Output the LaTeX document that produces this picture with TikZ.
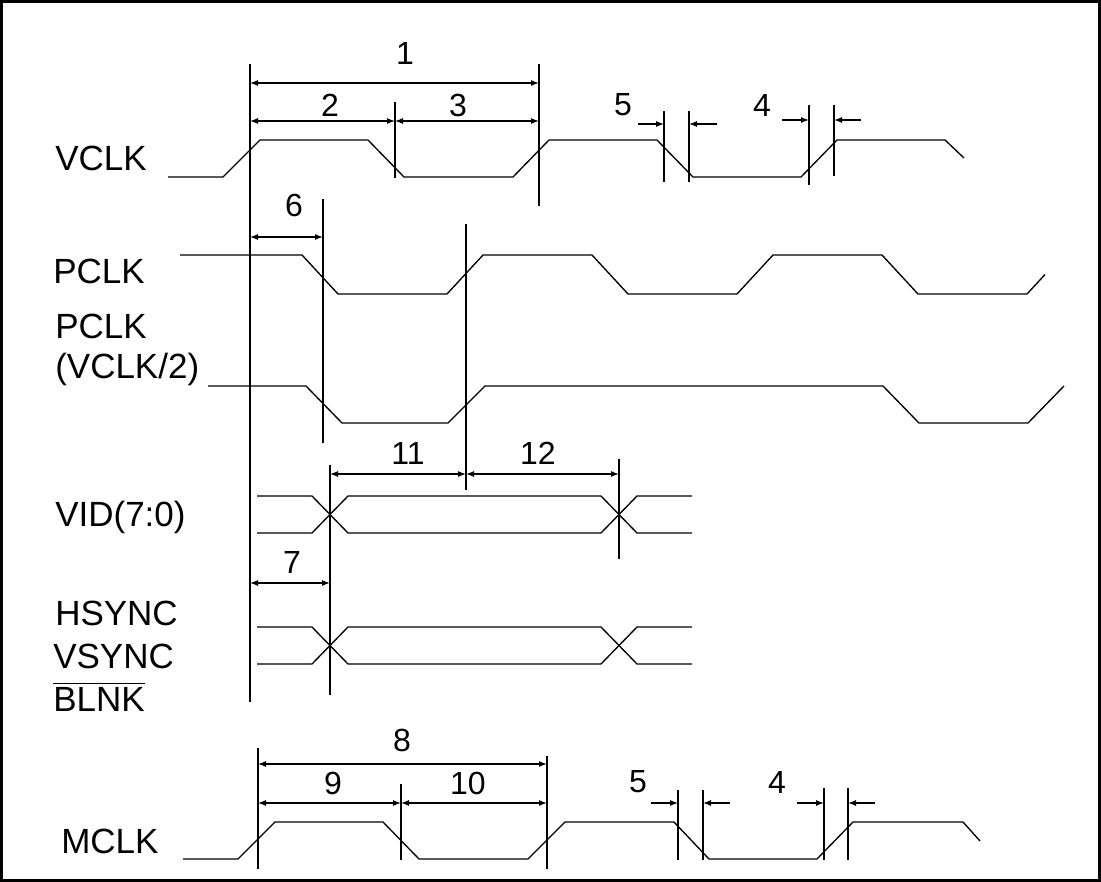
\documentclass[tikz,border=0pt]{standalone}
\usepackage{fontspec}
\setmainfont{Liberation Sans}
\usetikzlibrary{arrows.meta}
\begin{document}
\begin{tikzpicture}[x=0.75pt,y=-0.75pt,
  sig/.style={line width=1pt, line join=miter},
  guide/.style={line width=1pt},
  tip/.tip={Latex[length=6pt,width=4.5pt]},
  dim/.style={line width=0.9pt, tip-tip},
  dimr/.style={line width=0.9pt, -tip},
  lbl/.style={font=\fontsize{26.25}{30}\selectfont, inner sep=0pt, anchor=base west},
  num/.style={font=\fontsize{24}{28}\selectfont, inner sep=0pt}]
\useasboundingbox (0,0) rectangle (1101,882);
\draw[line width=1.6pt] (1.5,1.5) rectangle (1099.5,880.5);

% ---------- labels ----------
\node[lbl] (lvclk) at (55,170.5) {VCLK};
\node[lbl] (lpclk) at (53,283.5) {PCLK};
\node[lbl, align=left] (lpclk2) at (55,378.5) {PCLK\\(VCLK/2)};
\node[lbl] (lvid) at (55,526.5) {VID(7:0)};
\node[lbl] (lhs) at (55,625.5) {HSYNC};
\node[lbl] (lvs) at (53,668.5) {VSYNC};
\node[lbl] (lbl) at (53,711.5) {BLNK};
\draw[line width=0.8pt] ([yshift=3pt]lbl.north west) -- ([yshift=3pt]lbl.north east);
\node[lbl] (lmclk) at (61,853.5) {MCLK};

% ---------- signals ----------
\draw[sig] (168,177) -- (223,177) -- (260,140) -- (368,140) -- (404,177) -- (513,177)
  -- (549,140) -- (657,140) -- (693,177) -- (801,177) -- (837,140) -- (945,140) -- (964,158);
\draw[sig] (180,255) -- (302,255) -- (338,294) -- (447,294) -- (483,255) -- (592,255)
  -- (628,294) -- (737,294) -- (773,255) -- (882,255) -- (918,294) -- (1027,294) -- (1045,274.5);
\draw[sig] (208,386) -- (306,386) -- (342,423) -- (448,423) -- (485,386) -- (883,386)
  -- (919,423) -- (1028,423) -- (1064,386);
% bus signals
\foreach \yt/\yb in {496/533, 627/664}{
  \draw[sig] (257,\yt) -- (312,\yt) -- (348,\yb) -- (601,\yb) -- (637,\yt) -- (692,\yt);
  \draw[sig] (257,\yb) -- (312,\yb) -- (348,\yt) -- (601,\yt) -- (637,\yb) -- (692,\yb);
}
\draw[sig] (183,859) -- (238,859) -- (275,822) -- (383,822) -- (419,859) -- (528,859)
  -- (565,822) -- (674,822) -- (709,859) -- (817,859) -- (853,822) -- (963,822) -- (980,841);

% ---------- guide lines ----------
\coordinate (A1) at (250,64);  \coordinate (A2) at (250,702);
\coordinate (B1) at (395,102); \coordinate (B2) at (395,178);
\coordinate (C1) at (539,64);  \coordinate (C2) at (539,206);
\coordinate (D1) at (664,111); \coordinate (D2) at (664,182);
\coordinate (E1) at (689,111); \coordinate (E2) at (689,182);
\coordinate (F1) at (809,105); \coordinate (F2) at (809,185);
\coordinate (G1) at (834,105); \coordinate (G2) at (834,176);
\coordinate (H1) at (323,199); \coordinate (H2) at (323,443);
\coordinate (I1) at (466,224); \coordinate (I2) at (466,490);
\coordinate (J1) at (330,465); \coordinate (J2) at (330,695);
\coordinate (K1) at (619,459); \coordinate (K2) at (619,559);
\coordinate (L1) at (258,748); \coordinate (L2) at (258,869);
\coordinate (M1) at (401,784); \coordinate (M2) at (401,860);
\coordinate (N1) at (547,756); \coordinate (N2) at (547,869);
\coordinate (O1) at (678,790); \coordinate (O2) at (678,860);
\coordinate (P1) at (703,790); \coordinate (P2) at (703,860);
\coordinate (Q1) at (824,788); \coordinate (Q2) at (824,860);
\coordinate (R1) at (848,788); \coordinate (R2) at (848,860);
\foreach \g in {A,B,C,D,E,F,G,H,I,J,K,L,M,N,O,P,Q,R}{
  \draw[guide] (\g1) -- (\g2);
}

% ---------- dimension levels ----------
\coordinate (y83) at (0,83);
\coordinate (y121) at (0,121);
\coordinate (y124) at (0,124);
\coordinate (y120) at (0,120);
\coordinate (y237) at (0,237);
\coordinate (y474) at (0,474);
\coordinate (y583) at (0,583);
\coordinate (y764) at (0,764);
\coordinate (y803) at (0,803);

\draw[dim] (A1 |- y83) -- (C1 |- y83);
\draw[dim] (A1 |- y121) -- (B1 |- y121);
\draw[dim] (B1 |- y121) -- (C1 |- y121);
\coordinate (t5a) at (638,124); \coordinate (t5b) at (717,124);
\draw[dimr] (t5a) -- (D1 |- y124);
\draw[dimr] (t5b) -- (E1 |- y124);
\coordinate (t4a) at (782,120); \coordinate (t4b) at (861,120);
\draw[dimr] (t4a) -- (F1 |- y120);
\draw[dimr] (t4b) -- (G1 |- y120);
\draw[dim] (A1 |- y237) -- (H1 |- y237);
\draw[dim] (J1 |- y474) -- (I1 |- y474);
\draw[dim] (I1 |- y474) -- (K1 |- y474);
\draw[dim] (A1 |- y583) -- (J1 |- y583);
\draw[dim] (L1 |- y764) -- (N1 |- y764);
\draw[dim] (L1 |- y803) -- (M1 |- y803);
\draw[dim] (M1 |- y803) -- (N1 |- y803);
\coordinate (b5a) at (651,803); \coordinate (b5b) at (730,803);
\draw[dimr] (b5a) -- (O1 |- y803);
\draw[dimr] (b5b) -- (P1 |- y803);
\coordinate (b4a) at (797,803); \coordinate (b4b) at (875,803);
\draw[dimr] (b4a) -- (Q1 |- y803);
\draw[dimr] (b4b) -- (R1 |- y803);

% ---------- numbers ----------
\node[num] (n1) at (405,53) {1};
\node[num] (n2) at (330,105) {2};
\node[num] (n3) at (458,105) {3};
\node[num] (n5a) at (623,105) {5};
\node[num] (n4a) at (762,105) {4};
\node[num] (n6) at (294,205) {6};
\node[num] (n11) at (408,453) {11};
\node[num] (n12) at (538,453) {12};
\node[num] (n7) at (292,562) {7};
\node[num] (n8) at (402,740) {8};
\node[num] (n9) at (333,783) {9};
\node[num] (n10) at (468,783) {10};
\node[num] (n5b) at (638,782) {5};
\node[num] (n4b) at (777,782) {4};
\end{tikzpicture}
\end{document}
